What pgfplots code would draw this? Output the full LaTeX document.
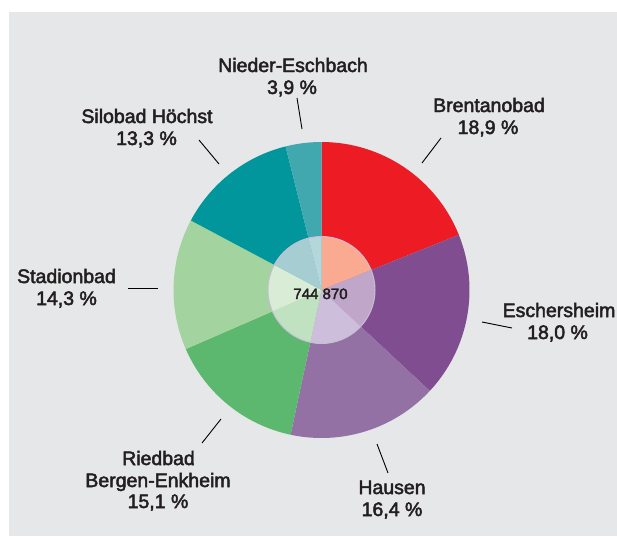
\documentclass[border=0pt]{standalone}
\usepackage{fontspec}
\setmainfont{Liberation Sans}[FakeBold=2.5]
\newfontfamily\lab{Liberation Sans}[FakeBold=2.5]
\usepackage{pgfplots}
\usepackage{pgfplotstable}
\pgfplotsset{compat=1.18}

\definecolor{bg}{RGB}{230,231,232}
\definecolor{txt}{RGB}{35,31,32}
\definecolor{slice0}{RGB}{237,28,36}
\definecolor{slice1}{RGB}{128,77,145}
\definecolor{slice2}{RGB}{148,113,165}
\definecolor{slice3}{RGB}{92,184,110}
\definecolor{slice4}{RGB}{163,211,158}
\definecolor{slice5}{RGB}{0,150,155}
\definecolor{slice6}{RGB}{64,168,174}
\definecolor{inner0}{RGB}{250,170,145}
\definecolor{inner1}{RGB}{192,167,202}
\definecolor{inner2}{RGB}{205,190,220}
\definecolor{inner3}{RGB}{192,226,192}
\definecolor{inner4}{RGB}{216,236,214}
\definecolor{inner5}{RGB}{165,205,210}
\definecolor{inner6}{RGB}{180,215,220}
\definecolor{ring}{RGB}{200,190,212}

\pgfplotstableread{
name value
Brentanobad 18.9
Eschersheim 18.0
Hausen 16.4
Riedbad 15.1
Stadionbad 14.3
Silobad 13.3
NiederEschbach 3.9
}\piedata

\begin{document}
\begin{tikzpicture}
\useasboundingbox (0,0) rectangle (617pt,536pt);
\fill[white] (0,0) rectangle (617pt,536pt);
% cumulative angles
\def\total{0}
\pgfplotsforeachungrouped \i in {0,...,6}{%
  \pgfplotstablegetelem{\i}{value}\of\piedata
  \pgfmathsetmacro\total{\total+\pgfplotsretval}%
  \xdef\total{\total}%
}
\def\cum{90}
\pgfplotsforeachungrouped \i in {0,...,6}{%
  \pgfplotstablegetelem{\i}{value}\of\piedata
  \pgfmathsetmacro\endang{\cum-\pgfplotsretval/\total*360}%
  \expandafter\xdef\csname sa\i\endcsname{\cum}%
  \expandafter\xdef\csname ea\i\endcsname{\endang}%
  \xdef\cum{\endang}%
}
\begin{axis}[
  at={(0,0)}, anchor=south west,
  x=1pt, y=1pt,
  xmin=0, xmax=617, ymin=0, ymax=536,
  y dir=reverse,
  hide axis,
  clip=false,
]
\fill[bg] (axis cs:9,12) rectangle (axis cs:617,536);
\pgfplotsforeachungrouped \i in {0,...,6}{%
  \edef\tmp{\noexpand\fill[slice\i] (axis cs:321.5,290) -- ++(\csname sa\i\endcsname:148pt) arc[start angle=\csname sa\i\endcsname, end angle=\csname ea\i\endcsname, radius=148pt] -- cycle;}%
  \tmp
}
\pgfplotsforeachungrouped \i in {0,...,6}{%
  \edef\tmp{\noexpand\fill[inner\i] (axis cs:321.5,290) -- ++(\csname sa\i\endcsname:53.5pt) arc[start angle=\csname sa\i\endcsname, end angle=\csname ea\i\endcsname, radius=53.5pt] -- cycle;}%
  \tmp
}
\draw[ring, line width=1pt] (axis cs:321.5,290) circle[radius=53.5pt];
\node[anchor=base, font=\lab\fontsize{15}{17}\selectfont, text=txt, inner sep=0pt] at (axis cs:320.5,299) {744 870};

% leader lines
\draw[black, line width=0.9pt] (axis cs:297,98) -- (axis cs:302,129);
\draw[black, line width=0.9pt] (axis cs:199,140) -- (axis cs:219,164);
\draw[black, line width=0.9pt] (axis cs:441,138) -- (axis cs:422,163);
\draw[black, line width=0.9pt] (axis cs:482,322) -- (axis cs:512,328);
\draw[black, line width=0.9pt] (axis cs:377,444) -- (axis cs:388,473);
\draw[black, line width=0.9pt] (axis cs:221,419) -- (axis cs:202,443);
\draw[black, line width=0.9pt] (axis cs:128,288) -- (axis cs:158,288);

% labels
\tikzset{lbl/.style={anchor=base, inner sep=0pt, text=txt, font=\lab\fontsize{19.5}{22}\selectfont}}
\node[lbl] at (axis cs:293,72) {Nieder-Eschbach};
\node[lbl] at (axis cs:292,94) {3,9 \%};
\node[lbl] at (axis cs:147,123) {Silobad Höchst};
\node[lbl] at (axis cs:146.5,145) {13,3 \%};
\node[lbl] at (axis cs:489,112) {Brentanobad};
\node[lbl] at (axis cs:488,134) {18,9 \%};
\node[lbl] at (axis cs:559,317) {Eschersheim};
\node[lbl] at (axis cs:557.5,339) {18,0 \%};
\node[lbl] at (axis cs:392,494) {Hausen};
\node[lbl] at (axis cs:392,516) {16,4 \%};
\node[lbl] at (axis cs:158.5,465) {Riedbad};
\node[lbl] at (axis cs:158,487) {Bergen-Enkheim};
\node[lbl] at (axis cs:158,508) {15,1 \%};
\node[lbl] at (axis cs:66.5,283) {Stadionbad};
\node[lbl] at (axis cs:66.5,305) {14,3 \%};
\end{axis}
\end{tikzpicture}
\end{document}
